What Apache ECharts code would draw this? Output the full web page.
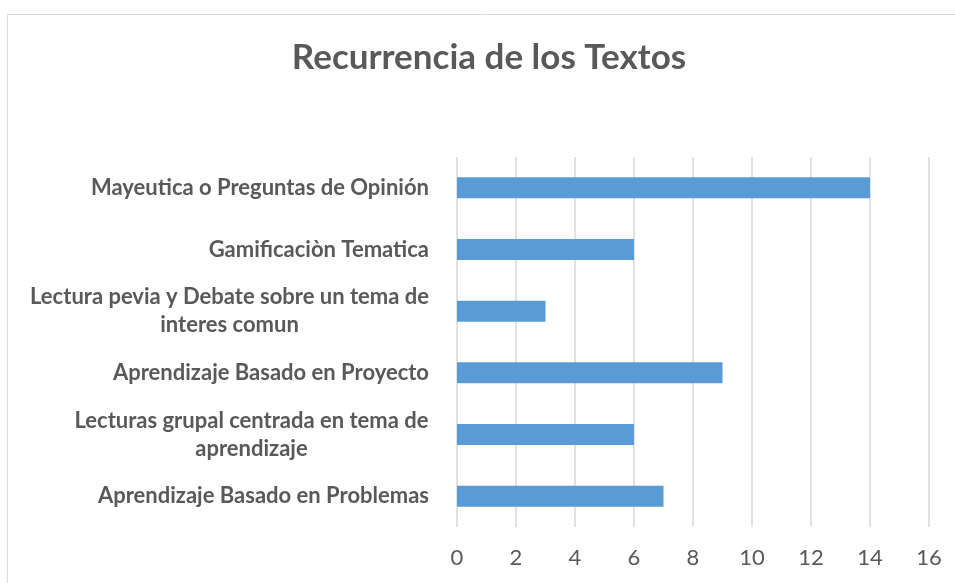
<!DOCTYPE html>
<html>
<head>
<meta charset="utf-8">
<script src="https://cdn.jsdelivr.net/npm/echarts@6/dist/echarts.min.js"></script>
<style>html,body{margin:0;padding:0;background:#fff;}#c{width:955px;height:583px;}</style>
</head>
<body>
<div id="c"></div>
<script>
const titleText = "Recurrencia de los Textos";
const categories = [
  "Mayeutica o Preguntas de Opinión",
  "Gamificaciòn Tematica",
  "Lectura pevia y Debate sobre un tema de\ninteres comun",
  "Aprendizaje Basado en Proyecto",
  "Lecturas grupal centrada en tema de\naprendizaje",
  "Aprendizaje Basado en Problemas"
];
const values = [14, 6, 3, 9, 6, 7];
const xTicks = { min: 0, max: 16, interval: 2 };

const labelFont = 'bold 22px Lato';
const ctx = document.createElement('canvas').getContext('2d');
ctx.font = labelFont;
function labelFormatter(v) {
  const lines = v.split('\n');
  if (lines.length === 1) return v;
  const w = Math.ceil(Math.max.apply(null, lines.map(l => ctx.measureText(l).width)));
  return lines.map(l => '{w' + w + '|' + l + '}').join('\n');
}
const rich = {};
categories.forEach(c => {
  const lines = c.split('\n');
  if (lines.length > 1) {
    const w = Math.ceil(Math.max.apply(null, lines.map(l => ctx.measureText(l).width)));
    rich['w' + w] = { width: w, align: 'center', fontFamily: 'Lato', fontWeight: 'bold', fontSize: 22, color: '#595959', lineHeight: 28 };
  }
});

const chart = echarts.init(document.getElementById('c'), null, { renderer: 'canvas' });
chart.setOption({
  animation: false,
  backgroundColor: '#ffffff',
  graphic: [{
    type: 'rect', left: 5, top: 12, silent: true,
    shape: { width: 1000, height: 700 },
    style: { fill: 'none', stroke: '#D9D9D9', lineWidth: 1 }
  }],
  title: {
    text: titleText, left: 484, top: 35, textAlign: 'center',
    textStyle: { fontFamily: 'Lato', fontWeight: 'bold', fontSize: 35, color: '#595959' }
  },
  grid: { left: 457, right: 26, top: 157, bottom: 56, containLabel: false },
  xAxis: {
    type: 'value', min: xTicks.min, max: xTicks.max, interval: xTicks.interval,
    axisLine: { show: false }, axisTick: { show: false },
    splitLine: { show: true, lineStyle: { color: '#D9D9D9', width: 1.5 } },
    axisLabel: { margin: 20, fontFamily: 'Lato', fontSize: 22, color: '#595959' }
  },
  yAxis: {
    type: 'category', data: categories, inverse: true,
    axisLine: { show: false }, axisTick: { show: false },
    axisLabel: { margin: 28, fontFamily: 'Lato', fontWeight: 'bold', fontSize: 22, color: '#595959', align: 'right', lineHeight: 28,
      formatter: labelFormatter, rich: rich }
  },
  series: [{
    type: 'bar', data: values, barWidth: 21,
    itemStyle: { color: '#5B9BD5' }
  }]
});
</script>
</body>
</html>
